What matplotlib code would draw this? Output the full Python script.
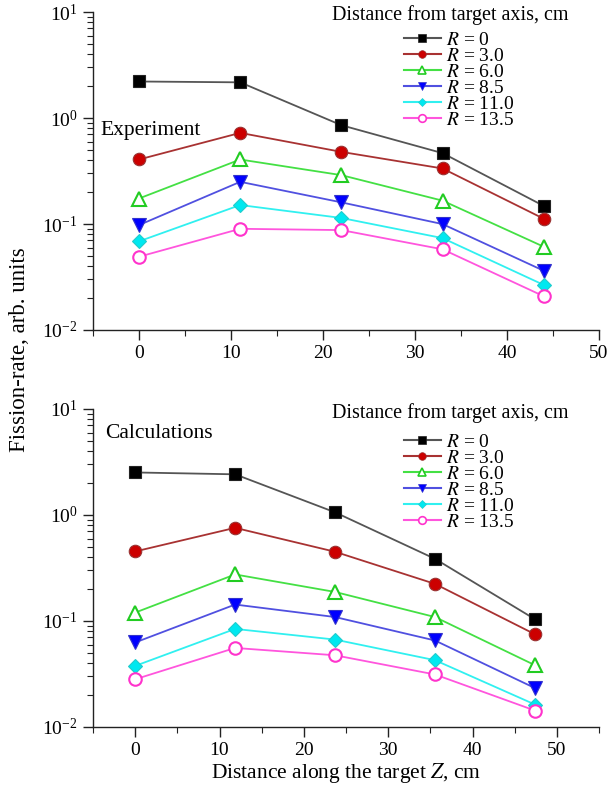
import matplotlib
matplotlib.use("Agg")
import matplotlib.pyplot as plt
from matplotlib.lines import Line2D
from matplotlib.ticker import LogLocator, MultipleLocator, NullFormatter

plt.rcParams['font.family'] = ['Liberation Serif', 'DejaVu Serif']
plt.rcParams['mathtext.fontset'] = 'stix'

# ---- data ----
z_exp = [0, 11, 22, 33, 44]
z_calc = [0, 11.85, 23.7, 35.55, 47.4]

r_labels = ['0', '3.0', '6.0', '8.5', '11.0', '13.5']

exp_R0 = [2.21, 2.17, 0.855, 0.466, 0.148]
exp_R3 = [0.406, 0.724, 0.479, 0.334, 0.112]
exp_R6 = [0.174, 0.406, 0.289, 0.166, 0.061]
exp_R85 = [0.0977, 0.250, 0.160, 0.0998, 0.0362]
exp_R11 = [0.0686, 0.151, 0.114, 0.0736, 0.0266]
exp_R135 = [0.0491, 0.0901, 0.0876, 0.0577, 0.0208]

calc_R0 = [2.52, 2.42, 1.06, 0.386, 0.104]
calc_R3 = [0.453, 0.757, 0.450, 0.224, 0.075]
calc_R6 = [0.120, 0.275, 0.188, 0.109, 0.0383]
calc_R85 = [0.0627, 0.143, 0.109, 0.0655, 0.0233]
calc_R11 = [0.0377, 0.0842, 0.0668, 0.0427, 0.0163]
calc_R135 = [0.0282, 0.0557, 0.0475, 0.0313, 0.0143]

exp_series = [exp_R0, exp_R3, exp_R6, exp_R85, exp_R11, exp_R135]
calc_series = [calc_R0, calc_R3, calc_R6, calc_R85, calc_R11, calc_R135]

# ---- styles ----
styles = [
    dict(line='#555555', marker='s', mfc='black', mec='#222222', ms=9),
    dict(line='#a83232', marker='o', mfc='#cc0000', mec='#993333', ms=9),
    dict(line='#44e044', marker='^', mfc='white', mec='#22cc22', ms=9.5),
    dict(line='#5050e0', marker='v', mfc='#0000ff', mec='#3333cc', ms=9.5),
    dict(line='#30f0f0', marker='D', mfc='#00e8f0', mec='#22cccc', ms=7.5),
    dict(line='#ff55dd', marker='o', mfc='white', mec='#ff33cc', ms=9),
]

fig = plt.figure(figsize=(6.14, 7.96), dpi=100)
ax1 = fig.add_axes([93/614, 1-330/796, 506/614, 318/796])
ax2 = fig.add_axes([93/614, 1-727/796, 506/614, 318/796])

def draw(ax, z, series, xlim, title_y, leg_y):
    for s, st in zip(series, styles):
        ax.plot(z, s, color=st['line'], lw=1.3, zorder=2)
        ax.plot(z, s, ls='none', marker=st['marker'], ms=st['ms'],
                mfc=st['mfc'], mec=st['mec'], mew=1.5 if st['mfc'] == 'white' else 0.8,
                zorder=3)
    ax.set_yscale('log')
    ax.set_ylim(1e-2, 1e1)
    ax.set_xlim(*xlim)
    ax.xaxis.set_major_locator(MultipleLocator(10))
    ax.xaxis.set_minor_locator(MultipleLocator(5))
    ax.yaxis.set_major_locator(LogLocator(base=10, numticks=10))
    ax.yaxis.set_minor_locator(LogLocator(base=10, subs=range(2, 10), numticks=20))
    ax.yaxis.set_minor_formatter(NullFormatter())
    for sp in ['top', 'right']:
        ax.spines[sp].set_visible(False)
    for sp in ['left', 'bottom']:
        ax.spines[sp].set_linewidth(1.0)
        ax.spines[sp].set_color('#222222')
    ax.tick_params(which='major', direction='out', length=7, width=1.0,
                   labelsize=14, color='#222222', pad=4)
    ax.tick_params(which='minor', direction='out', length=4, width=0.8, color='#222222')
    handles = [Line2D([], [], color=st['line'], lw=1.5, marker=st['marker'],
                      ms=5.5 if st['marker'] != 'D' else 4.5,
                      mfc=st['mfc'], mec=st['mec'], mew=1.2 if st['mfc'] == 'white' else 0.5)
               for st in styles]
    labels = [r'$R$ = ' + r for r in r_labels]
    fig.text(450/614, 1 - title_y/796, 'Distance from target axis, cm',
             fontsize=14.5, ha='center', va='center')
    ax.legend(handles, labels, loc='upper left',
              bbox_to_anchor=(404/614, 1 - leg_y/796), bbox_transform=fig.transFigure,
              frameon=False, fontsize=14,
              handlelength=1.9, handletextpad=0.25, labelspacing=-0.08,
              borderpad=0.0, borderaxespad=0.0)

draw(ax1, z_exp, exp_series, (-5, 50), 15, 31)
draw(ax2, z_calc, calc_series, (-5, 55), 413, 433)

fig.text(100/614, 1-130/796, 'Experiment', fontsize=15.5, va='center', ha='left')
fig.text(105/614, 1-433/796, 'Calculations', fontsize=15.5, va='center', ha='left')

ax2.set_xlabel(r'Distance along the target $Z$, cm', fontsize=15.5, labelpad=1)
fig.text(20/614, 1-350/796, 'Fission-rate, arb. units', rotation=90,
         fontsize=16.5, va='center', ha='center')

fig.savefig('out.png', dpi=100)
